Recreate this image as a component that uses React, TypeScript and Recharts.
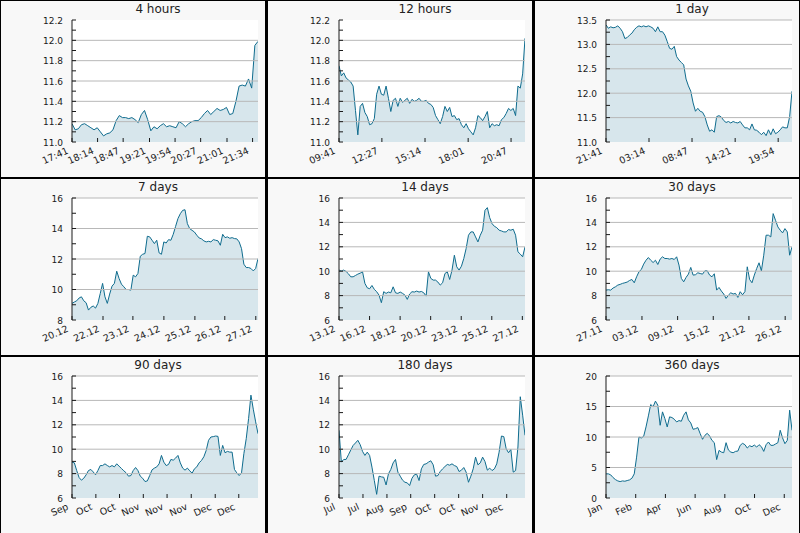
import React from "react";
import { AreaChart, Area, XAxis, YAxis, CartesianGrid, ReferenceLine } from "recharts";

// values, evenly spaced across each window
const fourHourValues = [
  11.18, 11.12, 11.13, 11.17, 11.18, 11.16, 11.14, 11.12, 11.14, 11.1,
  11.06, 11.08, 11.09, 11.12, 11.21, 11.26, 11.24, 11.24, 11.23, 11.24,
  11.22, 11.19, 11.27, 11.31, 11.22, 11.11, 11.15, 11.13, 11.16, 11.18,
  11.15, 11.16, 11.15, 11.14, 11.2, 11.18, 11.15, 11.18, 11.2, 11.21,
  11.21, 11.24, 11.28, 11.31, 11.27, 11.3, 11.33, 11.31, 11.32, 11.34,
  11.27, 11.28, 11.4, 11.55, 11.56, 11.55, 11.62, 11.53, 11.95, 11.99,
];
const twelveHourValues = [
  11.75, 11.65, 11.68, 11.63, 11.61, 11.59, 11.55, 11.31, 11.07, 11.35,
  11.38, 11.29, 11.25, 11.17, 11.18, 11.23, 11.47, 11.55, 11.47, 11.46,
  11.55, 11.43, 11.3, 11.41, 11.43, 11.35, 11.43, 11.39, 11.41, 11.43,
  11.38, 11.42, 11.4, 11.41, 11.43, 11.4, 11.4, 11.41, 11.38, 11.37,
  11.34, 11.26, 11.22, 11.18, 11.25, 11.35, 11.3, 11.34, 11.25, 11.26,
  11.22, 11.23, 11.17, 11.14, 11.18, 11.13, 11.1, 11.07, 11.14, 11.26,
  11.24, 11.21, 11.25, 11.3, 11.14, 11.18, 11.16, 11.17, 11.16, 11.22,
  11.24, 11.28, 11.33, 11.31, 11.33, 11.26, 11.55, 11.53, 11.67, 12.02,
];
const oneDayValues = [
  13.4, 13.33, 13.36, 13.34, 13.35, 13.38, 13.33, 13.26, 13.12, 13.14,
  13.19, 13.23, 13.3, 13.35, 13.38, 13.36, 13.38, 13.36, 13.38, 13.36,
  13.33, 13.26, 13.36, 13.26, 13.26, 13.19, 13.06, 12.92, 12.9, 12.96,
  12.75, 12.68, 12.63, 12.58, 12.29, 12.15, 12.04, 11.8, 11.63, 11.69,
  11.63, 11.61, 11.52, 11.35, 11.22, 11.25, 11.2, 11.52, 11.54, 11.51,
  11.44, 11.4, 11.42, 11.39, 11.42, 11.4, 11.39, 11.42, 11.35, 11.29,
  11.29, 11.25, 11.37, 11.25, 11.24, 11.2, 11.15, 11.2, 11.13, 11.25,
  11.15, 11.27, 11.17, 11.2, 11.25, 11.31, 11.29, 11.29, 11.52, 12.04,
];
const sevenDayValues = [
  9.09, 9.18, 9.26, 9.44, 9.52, 9.26, 9.13, 8.65, 8.83, 8.92,
  8.78, 9.09, 9.74, 10.4, 9.52, 9.09, 9.7, 10.22, 10.4, 11.2,
  10.72, 10.35, 10.18, 10.0, 10.0, 9.96, 10.94, 10.83, 11.05, 12.18,
  12.31, 12.36, 13.49, 13.45, 13.23, 13.01, 13.23, 12.4, 12.31, 13.12,
  13.05, 13.27, 13.23, 13.62, 14.14, 14.65, 14.97, 15.19, 15.23, 14.32,
  13.99, 13.88, 13.77, 13.56, 13.38, 13.32, 13.19, 13.12, 13.16, 13.12,
  13.27, 13.23, 13.19, 12.9, 13.62, 13.4, 13.45, 13.36, 13.4, 13.34,
  13.32, 13.12, 12.68, 11.66, 11.44, 11.44, 11.38, 11.22, 11.38, 12.03,
];
const fourteenDayValues = [
  10.09, 10.03, 10.09, 9.98, 9.79, 9.54, 9.54, 9.65, 9.76, 9.84,
  9.95, 9.0, 8.64, 8.56, 8.83, 8.51, 8.32, 8.04, 7.42, 8.32,
  8.18, 8.29, 8.23, 8.72, 8.23, 8.18, 8.29, 8.18, 8.04, 7.69,
  8.13, 8.32, 8.29, 8.37, 8.29, 8.34, 8.23, 7.96, 9.95, 9.41,
  9.27, 9.27, 9.11, 8.86, 9.05, 9.81, 9.95, 9.32, 10.09, 11.31,
  10.36, 10.09, 10.41, 11.04, 11.86, 12.95, 13.22, 13.22, 12.81, 12.4,
  12.95, 13.36, 14.99, 15.21, 14.39, 13.9, 13.68, 13.57, 13.36, 13.3,
  13.22, 13.22, 13.41, 13.36, 13.44, 12.95, 11.59, 11.4, 11.18, 11.99,
];
const thirtyDayValues = [
  8.45, 8.48, 8.45, 8.62, 8.72, 8.86, 8.92, 9.0, 9.05, 9.11,
  9.24, 9.32, 9.05, 9.54, 9.95, 10.14, 10.58, 10.9, 11.12, 10.9,
  10.71, 10.9, 10.55, 10.99, 11.18, 11.04, 11.04, 10.99, 11.04, 10.96,
  11.18, 10.5, 9.41, 9.13, 9.49, 9.76, 10.31, 9.68, 9.71, 9.87,
  9.81, 9.76, 10.03, 10.03, 9.68, 9.54, 9.79, 8.45, 8.67, 8.37,
  8.13, 7.77, 8.04, 8.23, 8.13, 8.18, 7.85, 8.32, 8.07, 8.32,
  10.36, 9.32, 9.05, 9.68, 10.22, 10.69, 10.03, 11.31, 12.95, 12.95,
  12.81, 14.72, 14.17, 13.63, 13.36, 13.14, 13.49, 13.22, 11.31, 11.99,
];
const ninetyDayValues = [
  8.94, 8.88, 8.25, 7.68, 7.46, 7.62, 7.9, 8.25, 8.34, 8.14,
  7.9, 8.25, 8.66, 8.66, 8.8, 8.66, 8.55, 8.66, 8.55, 8.8,
  8.61, 8.42, 8.23, 8.06, 7.79, 7.84, 8.25, 8.5, 8.25, 7.79,
  7.62, 7.35, 7.4, 7.84, 8.31, 8.45, 8.55, 8.8, 9.49, 8.94,
  8.66, 8.75, 9.16, 9.1, 9.27, 9.49, 8.88, 8.45, 8.28, 8.45,
  8.23, 8.03, 8.39, 8.55, 8.88, 9.08, 9.38, 9.9, 10.73, 11.0,
  11.03, 11.08, 11.05, 9.49, 10.31, 9.71, 9.82, 9.76, 9.76, 8.34,
  8.06, 7.84, 8.06, 9.63, 10.86, 12.51, 14.43, 13.28, 12.24, 11.27,
];
const oneEightyDayValues = [
  11.55, 8.94, 9.16, 9.16, 9.54, 9.93, 10.31, 10.51, 10.73, 10.37,
  9.82, 9.49, 9.76, 9.49, 8.53, 7.43, 6.3, 7.79, 7.73, 7.7,
  7.07, 7.98, 8.34, 8.88, 9.16, 8.12, 7.79, 7.46, 7.29, 7.24,
  7.02, 7.62, 7.9, 7.95, 7.43, 8.39, 8.75, 8.8, 8.94, 9.05,
  8.72, 7.79, 7.84, 8.17, 8.39, 8.58, 8.75, 8.69, 8.8, 8.66,
  8.58, 8.17, 8.28, 8.5, 8.12, 7.29, 7.79, 8.39, 9.35, 8.72,
  8.88, 9.35, 8.99, 8.28, 8.45, 8.25, 8.39, 8.8, 9.76, 11.08,
  11.03, 10.04, 9.71, 9.98, 8.12, 8.25, 10.18, 14.3, 12.79, 11.14,
];
const threeSixtyDayValues = [
  3.96, 3.96, 3.79, 3.35, 3.02, 2.8, 2.69, 2.8, 2.75, 2.86,
  2.97, 3.24, 3.96, 6.7, 10.0, 9.84, 10.11, 11.65, 13.46, 15.33,
  14.95, 15.88, 15.22, 11.92, 14.12, 13.02, 11.65, 13.3, 13.19, 12.91,
  12.47, 12.69, 12.58, 13.57, 14.12, 12.8, 12.31, 11.26, 11.37, 11.54,
  10.55, 9.62, 10.27, 10.6, 10.16, 9.45, 9.07, 6.3, 7.8, 7.53,
  7.42, 9.07, 7.86, 7.53, 7.42, 7.64, 7.69, 8.63, 8.96, 8.74,
  8.19, 8.57, 8.41, 8.68, 8.35, 8.74, 8.41, 7.64, 8.74, 9.18,
  8.63, 8.63, 8.85, 9.07, 11.1, 9.84, 8.9, 9.45, 14.4, 11.1,
];

// x tick positions (minutes / hours / days from window start) and their labels
const fourHourTicks = [0, 33, 66, 100, 133, 166, 200, 233];
const fourHourLabels = ["17:41", "18:14", "18:47", "19:21", "19:54", "20:27", "21:01", "21:34"];
const twelveHourTicks = [0, 166, 333, 500, 666];
const twelveHourLabels = ["09:41", "12:27", "15:14", "18:01", "20:47"];
const oneDayTicks = [0, 333, 666, 1000, 1333];
const oneDayLabels = ["21:41", "03:14", "08:47", "14:21", "19:54"];
const sevenDayTicks = [0, 28, 55, 83, 111, 138, 166];
const sevenDayLabels = ["20.12", "22.12", "23.12", "24.12", "25.12", "26.12", "27.12"];
const fourteenDayTicks = [0, 2.3, 4.6, 6.9, 9.2, 11.5, 13.8];
const fourteenDayLabels = ["13.12", "16.12", "18.12", "20.12", "23.12", "25.12", "27.12"];
const thirtyDayTicks = [0, 5.8, 11.55, 17.3, 23.05, 28.9];
const thirtyDayLabels = ["27.11", "03.12", "09.12", "15.12", "21.12", "26.12"];
const ninetyDayTicks = [0, 11.55, 23, 34.5, 46, 57.7, 69.3, 80.7];
const ninetyDayLabels = ["Sep", "Oct", "Oct", "Nov", "Nov", "Nov", "Dec", "Dec"];
const oneEightyDayTicks = [0, 23.2, 46.4, 69.4, 92.6, 115.8, 139, 162.3];
const oneEightyDayLabels = ["Jul", "Jul", "Aug", "Sep", "Oct", "Oct", "Nov", "Dec"];
const threeSixtyDayTicks = [0, 57.5, 115, 172.5, 230, 287.5, 345];
const threeSixtyDayLabels = ["Jan", "Feb", "Apr", "Jun", "Aug", "Oct", "Dec"];

const titles = ["4 hours", "12 hours", "1 day", "7 days", "14 days", "30 days", "90 days", "180 days", "360 days"];

const tightMajor = [11.0, 11.2, 11.4, 11.6, 11.8, 12.0, 12.2];
const tightMinor = [11.1, 11.3, 11.5, 11.7, 11.9, 12.1];
const dayMajor = [11.0, 11.5, 12.0, 12.5, 13.0, 13.5];
const dayMinor = [11.25, 11.75, 12.25, 12.75, 13.25];
const weekMajor = [8, 10, 12, 14, 16];
const weekMinor = [9, 11, 13, 15];
const wideMajor = [6, 8, 10, 12, 14, 16];
const wideMinor = [7, 9, 11, 13, 15];
const yearMajor = [0, 5, 10, 15, 20];
const yearMinor = [2.5, 7.5, 12.5, 17.5];

const LINE = "#0f6c8e";
const INK = "#1a1a1a";
const FONT = '"DejaVu Sans", sans-serif';

type PanelDef = {
  title: string;
  values: number[];
  span: number;
  xTicks: number[];
  xLabels: string[];
  major: number[];
  minor: number[];
  grid: number[];
  digits: number;
};

const panels: PanelDef[] = [
  { title: titles[0], values: fourHourValues, span: 240, xTicks: fourHourTicks, xLabels: fourHourLabels, major: tightMajor, minor: tightMinor, grid: tightMajor.slice(1, -1), digits: 1 },
  { title: titles[1], values: twelveHourValues, span: 720, xTicks: twelveHourTicks, xLabels: twelveHourLabels, major: tightMajor, minor: tightMinor, grid: tightMajor.slice(1, -1), digits: 1 },
  { title: titles[2], values: oneDayValues, span: 1440, xTicks: oneDayTicks, xLabels: oneDayLabels, major: dayMajor, minor: dayMinor, grid: dayMajor.slice(1), digits: 1 },
  { title: titles[3], values: sevenDayValues, span: 168, xTicks: sevenDayTicks, xLabels: sevenDayLabels, major: weekMajor, minor: weekMinor, grid: weekMajor.slice(1), digits: 0 },
  { title: titles[4], values: fourteenDayValues, span: 14, xTicks: fourteenDayTicks, xLabels: fourteenDayLabels, major: wideMajor, minor: wideMinor, grid: wideMajor.slice(1), digits: 0 },
  { title: titles[5], values: thirtyDayValues, span: 30, xTicks: thirtyDayTicks, xLabels: thirtyDayLabels, major: wideMajor, minor: wideMinor, grid: wideMajor.slice(1), digits: 0 },
  { title: titles[6], values: ninetyDayValues, span: 90, xTicks: ninetyDayTicks, xLabels: ninetyDayLabels, major: wideMajor, minor: wideMinor, grid: wideMajor.slice(1), digits: 0 },
  { title: titles[7], values: oneEightyDayValues, span: 180, xTicks: oneEightyDayTicks, xLabels: oneEightyDayLabels, major: wideMajor, minor: wideMinor, grid: wideMajor.slice(1), digits: 0 },
  { title: titles[8], values: threeSixtyDayValues, span: 360, xTicks: threeSixtyDayTicks, xLabels: threeSixtyDayLabels, major: yearMajor, minor: yearMinor, grid: yearMajor.slice(1), digits: 0 },
];

const PW = 264;
const PH = 176;
const colLeft = [1, 268, 535];
const rowTop = [1, 179, 357];

function Panel({ p, left, top }: { p: PanelDef; left: number; top: number }) {
  const n = p.values.length;
  const data = p.values.map((v, i) => ({ t: (i * p.span) / (n - 1), v }));
  const lo = p.major[0];
  const hi = p.major[p.major.length - 1];

  const yTick = (props: any) => {
    const { x, y, payload } = props;
    const isMajor = p.major.includes(payload.value);
    return (
      <g>
        <line x1={x} x2={x + 4} y1={y} y2={y} stroke={INK} strokeWidth={1} />
        {isMajor && (
          <text x={x - 9} y={y} dy={3.5} textAnchor="end" fontSize={9} fontFamily={FONT} fill={INK}>
            {payload.value.toFixed(p.digits)}
          </text>
        )}
      </g>
    );
  };

  const xTick = (props: any) => {
    const { x, y, payload } = props;
    const idx = p.xTicks.indexOf(payload.value);
    const tx = x - 3;
    const ty = y + 11;
    return (
      <g>
        <line x1={x} x2={x} y1={y} y2={y - 4} stroke={INK} strokeWidth={1} />
        <text x={tx} y={ty} transform={`rotate(-24 ${tx} ${ty})`} textAnchor="end" fontSize={9.5} fontFamily={FONT} fill={INK}>
          {idx >= 0 ? p.xLabels[idx] : ""}
        </text>
      </g>
    );
  };

  return (
    <div style={{ position: "absolute", left, top, width: PW, height: PH, background: "#f8f8f8" }}>
      <div
        style={{
          position: "absolute",
          left: 57,
          top: 0,
          width: 200,
          textAlign: "center",
          fontFamily: FONT,
          fontSize: 12,
          lineHeight: "16px",
          color: "#222",
        }}
      >
        {p.title}
      </div>
      <AreaChart width={PW} height={PH} data={data} margin={{ top: 19, right: 7, bottom: 0, left: 0 }}>
        <CartesianGrid fill="#ffffff" horizontal={false} vertical={false} />
        <XAxis
          dataKey="t"
          type="number"
          domain={[0, p.span]}
          ticks={p.xTicks}
          interval={0}
          height={35}
          axisLine={false}
          tickLine={false}
          tickSize={0}
          tickMargin={0}
          tick={xTick}
          allowDataOverflow
        />
        <YAxis
          type="number"
          domain={[lo, hi]}
          ticks={[...p.major, ...p.minor].sort((a, b) => a - b)}
          interval={0}
          width={71}
          axisLine={{ stroke: INK, strokeWidth: 1 }}
          tickLine={false}
          tickSize={0}
          tickMargin={0}
          tick={yTick}
          allowDataOverflow
        />
        {p.grid.map((g) => (
          <ReferenceLine key={g} y={g} stroke="#b8b8b8" strokeWidth={1} />
        ))}
        <Area
          dataKey="v"
          type="linear"
          stroke={LINE}
          strokeWidth={1}
          fill={LINE}
          fillOpacity={0.17}
          baseValue={lo}
          dot={false}
          activeDot={false}
          isAnimationActive={false}
        />
      </AreaChart>
    </div>
  );
}

export default function App() {
  return (
    <div style={{ position: "absolute", left: 0, top: 0, width: 800, height: 533, background: "#000" }}>
      {panels.map((p, i) => (
        <Panel key={p.title} p={p} left={colLeft[i % 3]} top={rowTop[Math.floor(i / 3)]} />
      ))}
    </div>
  );
}
